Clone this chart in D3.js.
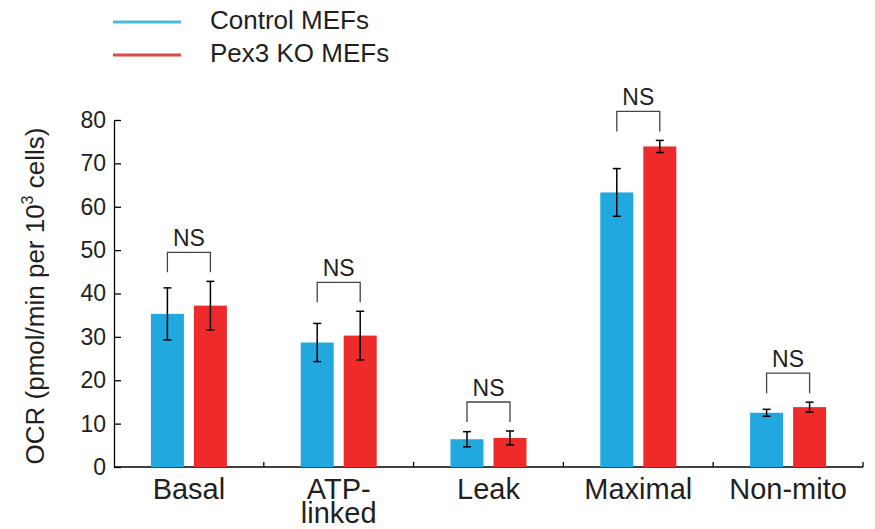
<!DOCTYPE html>
<html>
<head>
<meta charset="utf-8">
<script src="https://cdnjs.cloudflare.com/ajax/libs/d3/7.8.5/d3.min.js"></script>
<style>
  body { margin: 0; background: #fff; }
  svg { font-family: "Liberation Sans", Arial, sans-serif; }
</style>
</head>
<body>
<div id="chart"></div>
<script>
// data
const categories = ['Basal', 'ATP-linked', 'Leak', 'Maximal', 'Non-mito'];
const seriesNames = ['Control MEFs', 'Pex3 KO MEFs'];
const controlMean = [35.3, 28.7, 6.4, 63.3, 12.5];
const controlErr = [6.0, 4.4, 1.75, 5.5, 0.8];
const koMean = [37.2, 30.3, 6.7, 73.9, 13.8];
const koErr = [5.6, 5.6, 1.6, 1.4, 1.15];
const yTicks = [0, 10, 20, 30, 40, 50, 60, 70, 80];
const sigLabels = ['NS', 'NS', 'NS', 'NS', 'NS'];

const colours = { 'Control MEFs': '#21a8df', 'Pex3 KO MEFs': '#ee2b2a' };
const legendColours = { 'Control MEFs': '#4cb9de', 'Pex3 KO MEFs': '#e04a4a' };

const width = 875, height = 529;
const mLeft = 114, mRight = 863, mTop = 120, mBottom = 467;

const svg = d3.select('#chart').append('svg')
    .attr('width', width)
    .attr('height', height);

const x0 = d3.scaleBand().domain(categories).range([mLeft, mRight]).padding(0);
const groupW = x0.bandwidth();
const x1 = d3.scaleBand().domain(seriesNames)
    .range([groupW / 2 - 38, groupW / 2 + 38])
    .paddingInner(10 / 43).paddingOuter(0);
const y = d3.scaleLinear().domain([0, 80]).range([mBottom, mTop]);

const rows = categories.map((c, i) => ({
    cat: c,
    sig: sigLabels[i],
    bars: [
        { name: seriesNames[0], mean: controlMean[i], err: controlErr[i] },
        { name: seriesNames[1], mean: koMean[i], err: koErr[i] }
    ]
}));

/* ---------------------------------- axes ---------------------------------- */
const yAxis = svg.append('g')
    .attr('transform', `translate(${mLeft},0)`)
    .call(d3.axisLeft(y).tickValues(yTicks).tickSizeInner(-7).tickSizeOuter(0).tickPadding(8));
yAxis.select('.domain').attr('stroke', '#000').attr('stroke-width', 1.3);
yAxis.selectAll('.tick line').attr('stroke', '#000').attr('stroke-width', 1.3);
yAxis.selectAll('.tick text')
    .attr('x', -8)
    .attr('font-size', 23)
    .attr('fill', '#231f20')
    .attr('font-family', '"Liberation Sans", Arial, sans-serif');

// x axis: line with small upward ticks at group boundaries
const xg = svg.append('g');
xg.append('line')
    .attr('x1', mLeft).attr('x2', mRight)
    .attr('y1', mBottom).attr('y2', mBottom)
    .attr('stroke', '#000').attr('stroke-width', 1.3);
xg.selectAll('line.sep')
    .data(categories.slice(1).concat(['end']))
    .enter().append('line')
    .attr('class', 'sep')
    .attr('x1', d => d === 'end' ? mRight : x0(d))
    .attr('x2', d => d === 'end' ? mRight : x0(d))
    .attr('y1', mBottom).attr('y2', mBottom - 5)
    .attr('stroke', '#000').attr('stroke-width', 1.3);

// category labels (ATP-linked wraps onto two lines)
xg.selectAll('text.cat')
    .data(categories)
    .enter().append('text')
    .attr('class', 'cat')
    .attr('text-anchor', 'middle')
    .attr('font-size', 29)
    .attr('fill', '#231f20')
    .each(function (d) {
        const cx = x0(d) + groupW / 2;
        const parts = d === 'ATP-linked' ? ['ATP-', 'linked'] : [d];
        d3.select(this).selectAll('tspan')
            .data(parts)
            .enter().append('tspan')
            .attr('x', cx)
            .attr('y', (p, k) => 499 + k * 24)
            .text(p => p);
    });

// y axis title
const yTitle = svg.append('text')
    .attr('transform', 'translate(44,296) rotate(-90)')
    .attr('text-anchor', 'middle')
    .attr('font-size', 26)
    .attr('fill', '#231f20');
yTitle.append('tspan').text('OCR (pmol/min per 10');
yTitle.append('tspan').attr('font-size', 16).attr('dy', -11).text('3');
yTitle.append('tspan').attr('dy', 11).text(' cells)');

/* ---------------------------------- bars ---------------------------------- */
const groups = svg.selectAll('g.group')
    .data(rows)
    .enter().append('g')
    .attr('class', 'group')
    .attr('transform', d => `translate(${x0(d.cat)},0)`);

groups.selectAll('rect')
    .data(d => d.bars)
    .enter().append('rect')
    .attr('x', d => x1(d.name))
    .attr('width', x1.bandwidth())
    .attr('y', d => y(d.mean))
    .attr('height', d => y(0) - y(d.mean))
    .attr('fill', d => colours[d.name]);

// error bars
const eb = groups.selectAll('g.err')
    .data(d => d.bars)
    .enter().append('g')
    .attr('class', 'err')
    .attr('stroke', '#000')
    .attr('stroke-width', 1.5);
eb.append('line')
    .attr('x1', d => x1(d.name) + x1.bandwidth() / 2)
    .attr('x2', d => x1(d.name) + x1.bandwidth() / 2)
    .attr('y1', d => y(d.mean + d.err))
    .attr('y2', d => y(d.mean - d.err));
eb.selectAll('line.cap')
    .data(d => [d.mean + d.err, d.mean - d.err].map(v => ({ name: d.name, v })))
    .enter().append('line')
    .attr('class', 'cap')
    .attr('x1', d => x1(d.name) + x1.bandwidth() / 2 - 4)
    .attr('x2', d => x1(d.name) + x1.bandwidth() / 2 + 4)
    .attr('y1', d => y(d.v))
    .attr('y2', d => y(d.v));

/* ------------------------- significance brackets -------------------------- */
groups.each(function (d) {
    const g = d3.select(this);
    const xa = x1(seriesNames[0]) + x1.bandwidth() / 2;
    const xb = x1(seriesNames[1]) + x1.bandwidth() / 2;
    const legY = d3.min(d.bars, b => y(b.mean + b.err)) - 9;
    const barY = legY - 20;
    g.append('path')
        .attr('d', `M${xa},${legY}V${barY}H${xb}V${legY}`)
        .attr('fill', 'none')
        .attr('stroke', '#444')
        .attr('stroke-width', 1.3);
    g.append('text')
        .attr('x', (xa + xb) / 2)
        .attr('y', barY - 6)
        .attr('text-anchor', 'middle')
        .attr('font-size', 23)
        .attr('fill', '#231f20')
        .text(d.sig);
});

/* --------------------------------- legend --------------------------------- */
const legend = svg.selectAll('g.legend')
    .data(seriesNames)
    .enter().append('g')
    .attr('class', 'legend')
    .attr('transform', (d, i) => `translate(0,${22 + i * 33})`);
legend.append('line')
    .attr('x1', 113).attr('x2', 181)
    .attr('stroke', d => legendColours[d])
    .attr('stroke-width', 3);
legend.append('text')
    .attr('x', 210)
    .attr('y', 7)
    .attr('font-size', 26)
    .attr('fill', '#231f20')
    .text(d => d);
</script>
</body>
</html>
